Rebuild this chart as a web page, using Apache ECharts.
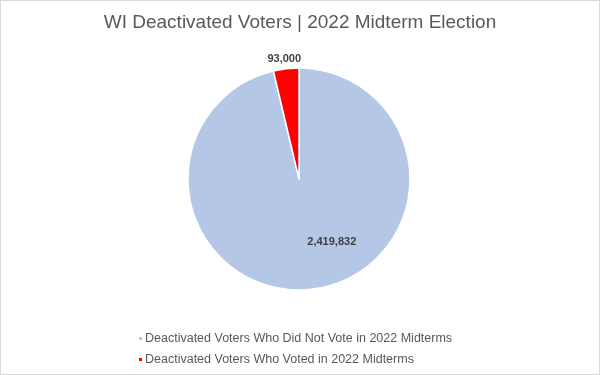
<!DOCTYPE html>
<html>
<head>
<meta charset="utf-8">
<script src="https://cdn.jsdelivr.net/npm/echarts@6/dist/echarts.min.js"></script>
<style>
html,body{margin:0;padding:0;background:#fff;}
#wrap{width:600px;height:375px;box-sizing:border-box;border:1px solid #d9d9d9;}
#chart{width:598px;height:373px;}
</style>
</head>
<body>
<div id="wrap"><div id="chart"></div></div>
<script>
const titleText = 'WI Deactivated Voters | 2022 Midterm Election';
const categories = ['Deactivated Voters Who Did Not Vote in 2022 Midterms', 'Deactivated Voters Who Voted in 2022 Midterms'];
const values = [2419832, 93000];
const colors = ['#b4c7e7', '#ff0000'];
const labelOffsets = [[26, 5], [-8, -62]];

const chart = echarts.init(document.getElementById('chart'));
const fmt = v => v.toLocaleString('en-US');
chart.setOption({
  animation: false,
  title: {
    text: titleText, left: 'center', top: 7,
    textStyle: {fontFamily: 'Liberation Sans', fontSize: 19, fontWeight: 'normal', color: '#595959'}
  },
  legend: {
    orient: 'vertical', left: 131, top: 326,
    icon: 'rect', itemWidth: 5, itemHeight: 5, itemGap: 8,
    textStyle: {fontFamily: 'Liberation Sans', fontSize: 12.5, color: '#595959', padding: [0,0,0,-3]},
    data: categories
  },
  series: [{
    type: 'pie',
    center: [298, 178],
    radius: [0, 111],
    startAngle: 90,
    clockwise: true,
    itemStyle: {borderColor: '#fff', borderWidth: 1.5},
    label: {
      show: true, position: 'inside',
      formatter: p => fmt(p.value),
      fontFamily: 'Liberation Sans', fontSize: 11, fontWeight: 'bold', color: '#404040'
    },
    labelLine: {show: false},
    labelLayout: p => ({dx: labelOffsets[p.dataIndex][0], dy: labelOffsets[p.dataIndex][1]}),
    emphasis: {disabled: true},
    data: categories.map((c, i) => ({name: c, value: values[i], itemStyle: {color: colors[i]}}))
  }]
});
</script>
</body>
</html>
